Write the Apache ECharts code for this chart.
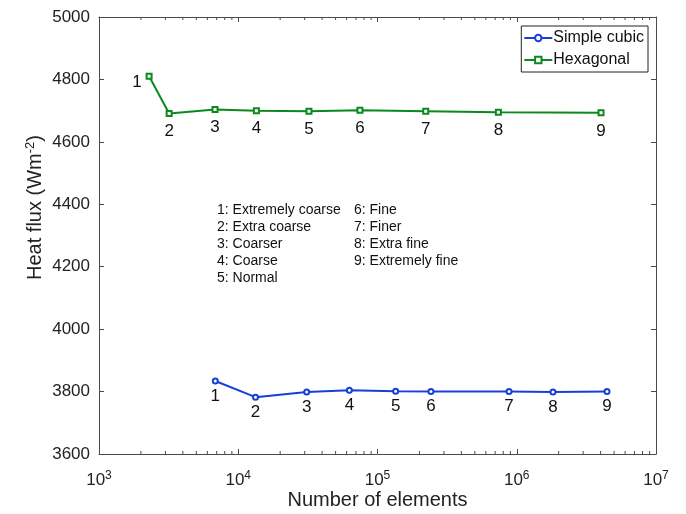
<!DOCTYPE html>
<html>
<head>
<meta charset="utf-8">
<script src="https://cdn.jsdelivr.net/npm/echarts@6/dist/echarts.min.js"></script>
<style>
  html, body { margin: 0; padding: 0; background: #fff; }
  #chart { width: 686px; height: 514px; }
</style>
</head>
<body>
<div id="chart"></div>
<script>
// mesh refinement study: heat flux vs number of elements
const cubicElements = [6840, 13300, 31000, 62800, 135000, 242000, 880000, 1820000, 4450000];
const cubicFlux = [3834, 3782, 3799, 3804, 3801, 3800, 3800, 3799, 3800];
const hexElements = [2290, 3190, 6810, 13500, 32200, 74800, 222000, 738000, 4030000];
const hexFlux = [4810, 4691, 4704, 4700, 4698, 4701, 4698, 4695, 4693];
const meshNames = ['Extremely coarse', 'Extra coarse', 'Coarser', 'Coarse', 'Normal',
  'Fine', 'Finer', 'Extra fine', 'Extremely fine'];
const seriesNames = ['Simple cubic', 'Hexagonal'];
const yTicks = [3600, 5000, 200];
const xRange = [1e3, 1e7];

const FONT = '"Liberation Sans", Arial, sans-serif';
const BLUE = '#1640d8';
const GREEN = '#0a8a1e';
const AXIS = '#4a4a4a';

// minor ticks of the log axis: 2..9 x 10^k
const minorVals = [];
for (let k = 3; k < 7; k++) {
  for (let m = 2; m <= 9; m++) minorVals.push(m * Math.pow(10, k));
}

const chart = echarts.init(document.getElementById('chart'), null, { renderer: 'canvas' });

const pairs = (xs, ys) => xs.map((x, i) => [x, ys[i]]);

const hexData = pairs(hexElements, hexFlux).map((v, i) => (
  i === 0 ? { value: v, label: { position: 'left', distance: 4, offset: [0, 6] } } : { value: v }
));

const leftCol = meshNames.slice(0, 5).map((n, i) => (i + 1) + ': ' + n).join('\n');
const rightCol = meshNames.slice(5).map((n, i) => (i + 6) + ': ' + n).join('\n');

const supFormatter = (v) => '{b|10}{s|' + Math.round(Math.log10(v)) + '}';

const option = {
  animation: false,
  textStyle: { fontFamily: FONT },
  grid: { left: 99, right: 30, top: 17, bottom: 60, outerBoundsMode: 'none' },
  legend: {
    data: seriesNames,
    orient: 'vertical',
    right: 38,
    top: 26,
    itemWidth: 28,
    itemHeight: 8,
    itemGap: 6,
    padding: [4, 4, 4, 2],
    borderColor: '#222',
    borderWidth: 1,
    backgroundColor: '#fff',
    textStyle: { fontFamily: FONT, fontSize: 16, color: '#111', padding: [0, 0, 0, -4] }
  },
  xAxis: [{
    type: 'log',
    logBase: 10,
    min: xRange[0],
    max: xRange[1],
    splitNumber: 4,
    name: 'Number of elements',
    nameLocation: 'middle',
    nameMoveOverlap: false,
    nameGap: 36,
    nameTextStyle: { fontFamily: FONT, fontSize: 20, color: '#222' },
    axisLine: { lineStyle: { color: AXIS } },
    axisTick: { inside: true, length: 5, lineStyle: { color: AXIS } },
    splitLine: { show: false },
    axisLabel: {
      margin: 12,
      formatter: supFormatter,
      rich: {
        b: { fontFamily: FONT, fontSize: 17, color: '#222', padding: [6, 0, 0, 0] },
        s: { fontFamily: FONT, fontSize: 12, color: '#222', padding: [0, 0, 4, 0] }
      }
    }
  }, {
    type: 'log',
    logBase: 10,
    min: xRange[0],
    max: xRange[1],
    splitNumber: 4,
    position: 'top',
    axisLine: { lineStyle: { color: AXIS } },
    axisTick: { inside: true, length: 5, lineStyle: { color: AXIS } },
    axisLabel: { show: false },
    splitLine: { show: false }
  }],
  yAxis: [{
    type: 'value',
    min: yTicks[0],
    max: yTicks[1],
    interval: yTicks[2],
    name: 'Heat flux (Wm{s|-2})',
    nameLocation: 'middle',
    nameMoveOverlap: false,
    nameGap: 52,
    nameTextStyle: {
      fontFamily: FONT, fontSize: 20, color: '#222',
      padding: [0, 0, 0, 56],
      rich: { s: { fontFamily: FONT, fontSize: 13, color: '#222', padding: [0, 0, 10, 0] } }
    },
    axisLine: { show: true, lineStyle: { color: AXIS } },
    axisTick: { show: true, inside: true, length: 5, lineStyle: { color: AXIS } },
    splitLine: { show: false },
    axisLabel: { fontFamily: FONT, fontSize: 17, color: '#222', margin: 9, formatter: (v) => String(v) }
  }, {
    type: 'value',
    min: yTicks[0],
    max: yTicks[1],
    interval: yTicks[2],
    position: 'right',
    axisLine: { show: true, lineStyle: { color: AXIS } },
    axisTick: { show: true, inside: true, length: 5, lineStyle: { color: AXIS } },
    splitLine: { show: false },
    axisLabel: { show: false }
  }],
  graphic: [{
    type: 'text',
    left: 217,
    top: 202,
    style: { text: leftCol, font: '14px ' + FONT, fill: '#111', lineHeight: 17 }
  }, {
    type: 'text',
    left: 354,
    top: 202,
    style: { text: rightCol, font: '14px ' + FONT, fill: '#111', lineHeight: 17 }
  }],
  series: [{
    name: seriesNames[0],
    type: 'line',
    data: pairs(cubicElements, cubicFlux),
    symbol: 'emptyCircle',
    symbolSize: 5,
    color: BLUE,
    lineStyle: { width: 2, color: BLUE },
    itemStyle: { color: BLUE, borderWidth: 1.5 },
    label: {
      show: true, position: 'bottom', distance: 3,
      formatter: (p) => String(p.dataIndex + 1),
      fontFamily: FONT, fontSize: 17, color: '#111'
    },
    z: 3
  }, {
    name: seriesNames[1],
    type: 'line',
    data: hexData,
    symbol: 'emptyRect',
    symbolSize: 5,
    color: GREEN,
    lineStyle: { width: 2, color: GREEN },
    itemStyle: { color: GREEN, borderWidth: 1.5 },
    label: {
      show: true, position: 'bottom', distance: 6,
      formatter: (p) => String(p.dataIndex + 1),
      fontFamily: FONT, fontSize: 17, color: '#111'
    },
    z: 3
  }, {
    // minor ticks, bottom and top, placed through the log scale
    type: 'custom',
    silent: true,
    data: minorVals.map((v) => [v, yTicks[0]]),
    renderItem: (params, api) => {
      const x = api.coord([api.value(0), yTicks[0]])[0];
      const yb = api.coord([api.value(0), yTicks[0]])[1];
      const yt = api.coord([api.value(0), yTicks[1]])[1];
      return {
        type: 'group',
        children: [
          { type: 'line', shape: { x1: x, y1: yb, x2: x, y2: yb - 3 }, style: { stroke: AXIS, lineWidth: 1 } },
          { type: 'line', shape: { x1: x, y1: yt, x2: x, y2: yt + 3 }, style: { stroke: AXIS, lineWidth: 1 } }
        ]
      };
    },
    z: 1
  }]
};

chart.setOption(option);
</script>
</body>
</html>
